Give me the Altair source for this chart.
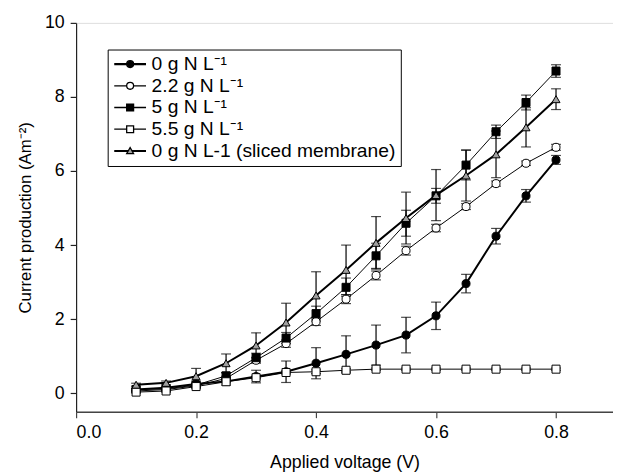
import altair as alt
import pandas as pd

voltage = [0.10, 0.15, 0.20, 0.25, 0.30, 0.35, 0.40, 0.45, 0.50, 0.55, 0.60, 0.65, 0.70, 0.75, 0.80]

series_names = ["0 g N L⁻¹", "2.2 g N L⁻¹", "5 g N L⁻¹", "5.5 g N L⁻¹", "0 g N L-1 (sliced membrane)"]

cur_0g = [0.10, 0.15, 0.25, 0.32, 0.45, 0.58, 0.81, 1.05, 1.30, 1.57, 2.09, 2.96, 4.24, 5.33, 6.30]
err_0g = [0.03, 0.04, 0.08, 0.10, 0.17, 0.29, 0.42, 0.50, 0.54, 0.48, 0.37, 0.25, 0.21, 0.17, 0.12]

cur_2g = [0.06, 0.10, 0.20, 0.40, 0.89, 1.34, 1.93, 2.54, 3.18, 3.85, 4.46, 5.04, 5.66, 6.21, 6.64]
err_2g = [0.03, 0.03, 0.05, 0.06, 0.08, 0.10, 0.10, 0.12, 0.12, 0.12, 0.10, 0.08, 0.07, 0.06, 0.08]

cur_5g = [0.10, 0.12, 0.22, 0.47, 0.96, 1.49, 2.15, 2.86, 3.71, 4.59, 5.33, 6.16, 7.06, 7.85, 8.70]
err_5g = [0.03, 0.04, 0.06, 0.08, 0.12, 0.15, 0.20, 0.25, 0.34, 0.35, 0.20, 0.40, 0.18, 0.20, 0.17]

cur_55g = [0.03, 0.06, 0.18, 0.31, 0.42, 0.56, 0.58, 0.62, 0.65, 0.65, 0.65, 0.65, 0.65, 0.65, 0.65]
err_55g = [0.02, 0.02, 0.03, 0.03, 0.03, 0.04, 0.05, 0.04, 0.03, 0.03, 0.03, 0.03, 0.03, 0.03, 0.03]

cur_sl = [0.23, 0.28, 0.46, 0.81, 1.29, 1.91, 2.64, 3.33, 4.06, 4.73, 5.35, 5.88, 6.45, 7.18, 7.94]
err_sl = [0.04, 0.05, 0.21, 0.25, 0.34, 0.52, 0.64, 0.67, 0.71, 0.70, 0.69, 0.69, 0.63, 0.53, 0.28]

marker_shapes = ["circle", "circle", "square", "square", "triangle-up"]
marker_fills = ["black", "white", "black", "white", "#a0a0a0"]
legend_paths = [
    "M-4.6,-0.12H-1M1,-0.12H4.6M-4.6,0.12H-1M1,0.12H4.6M-1,0A1,1,0,1,1,1,0A1,1,0,1,1,-1,0Z",
    "M-4.6,0H-1M1,0H4.6M-1,0A1,1,0,1,1,1,0A1,1,0,1,1,-1,0Z",
    "M-4.6,0H-1M1,0H4.6M-1,-1H1V1H-1Z",
    "M-4.6,0H-1M1,0H4.6M-1,-1H1V1H-1Z",
    "M-4.6,-0.12H-0.6M0.6,-0.12H4.6M-4.6,0.12H-0.6M0.6,0.12H4.6M0,-1L1,0.8H-1Z",
]
legend_strokes = ["black", "black", "black", "black", "black"]
thick_series = [series_names[0], series_names[4]]

currents = [cur_0g, cur_2g, cur_5g, cur_55g, cur_sl]
errors = [err_0g, err_2g, err_5g, err_55g, err_sl]

rows = []
for name, cs, es in zip(series_names, currents, errors):
    for v, c, e in zip(voltage, cs, es):
        rows.append({"series": name, "v": v, "c": c, "lo": c - e, "hi": c + e})
df = pd.DataFrame(rows)

FONT = "Liberation Sans"
Y_TITLE = "Current production (Am⁻²)"

xscale = alt.Scale(domain=[0, 0.895], nice=False, zero=False)
yscale = alt.Scale(domain=[-0.5, 10], nice=False, zero=False)

x_axis = alt.Axis(
    values=[0, 0.2, 0.4, 0.6, 0.8], format=".1f", title="Applied voltage (V)",
    grid=False, labelFontSize=18, titleFontSize=18, titleFontWeight="normal",
    tickSize=6, tickColor="#444", domainColor="#444", domainWidth=1.5, tickWidth=1.2,
    labelColor="black", titleColor="black", labelPadding=6, titlePadding=12,
    labelFont=FONT, titleFont=FONT)
y_axis = alt.Axis(
    values=[0, 2, 4, 6, 8, 10], title=Y_TITLE,
    grid=False, labelFontSize=18, titleFontSize=17, titleFontWeight="normal",
    tickSize=6, tickColor="#222", domainColor="#222", domainWidth=1.2, tickWidth=1.2,
    labelColor="black", titleColor="black", labelPadding=6, titlePadding=10,
    labelFont=FONT, titleFont=FONT)

x_enc = alt.X("v:Q", scale=xscale, axis=x_axis, title="Applied voltage (V)")


def y_of(field):
    return alt.Y(field + ":Q", scale=yscale, axis=y_axis, title=Y_TITLE)


base = alt.Chart(df)

thick_lines = base.transform_filter(
    alt.FieldOneOfPredicate(field="series", oneOf=thick_series)
).mark_line(color="black", strokeWidth=2).encode(x=x_enc, y=y_of("c"), detail="series:N")

thin_lines = base.transform_filter(
    ~alt.FieldOneOfPredicate(field="series", oneOf=thick_series)
).mark_line(color="black", strokeWidth=1).encode(x=x_enc, y=y_of("c"), detail="series:N")

err_rules = base.mark_rule(color="black", strokeWidth=1.2).encode(
    x=x_enc, y=y_of("lo"), y2="hi:Q")
cap_lo = base.mark_tick(color="black", orient="horizontal", size=10, thickness=1.2).encode(
    x=x_enc, y=y_of("lo"))
cap_hi = base.mark_tick(color="black", orient="horizontal", size=10, thickness=1.2).encode(
    x=x_enc, y=y_of("hi"))

points = base.mark_point(opacity=1, stroke="black", strokeWidth=1, size=66).encode(
    x=x_enc, y=y_of("c"),
    shape=alt.Shape("series:N", scale=alt.Scale(domain=series_names, range=marker_shapes), legend=None),
    fill=alt.Fill("series:N", scale=alt.Scale(domain=series_names, range=marker_fills), legend=None),
)

leg = alt.Legend(title=None, orient="none", legendX=32, legendY=27,
                 labelFontSize=19.5, labelFont=FONT, labelColor="black", labelLimit=400,
                 symbolSize=49, symbolStrokeWidth=1.3, symbolStrokeColor="black",
                 symbolOffset=8, labelOffset=12, padding=5, rowPadding=1,
                 strokeColor="black", fillColor="white", direction="vertical")

legend_layer = base.transform_filter("datum.v > 5").mark_point(
    opacity=1, strokeWidth=1.3, size=49).encode(
    x=x_enc, y=y_of("c"),
    shape=alt.Shape("series:N", scale=alt.Scale(domain=series_names, range=legend_paths),
                    sort=series_names, legend=leg),
    fill=alt.Fill("series:N", scale=alt.Scale(domain=series_names, range=marker_fills),
                  sort=series_names, legend=leg),
    stroke=alt.Stroke("series:N", scale=alt.Scale(domain=series_names, range=legend_strokes),
                      sort=series_names, legend=leg),
)

chart = alt.layer(
    thin_lines, thick_lines, err_rules, cap_lo, cap_hi, points, legend_layer
).resolve_scale(shape="independent", fill="independent", stroke="independent").properties(
    width=544, height=394, autosize="none",
    padding={"left": 69, "top": 12, "right": 0, "bottom": 60},
).configure_view(stroke=None).configure(font=FONT)

chart.save("out.html", embed_options={"renderer": "svg", "actions": False})
